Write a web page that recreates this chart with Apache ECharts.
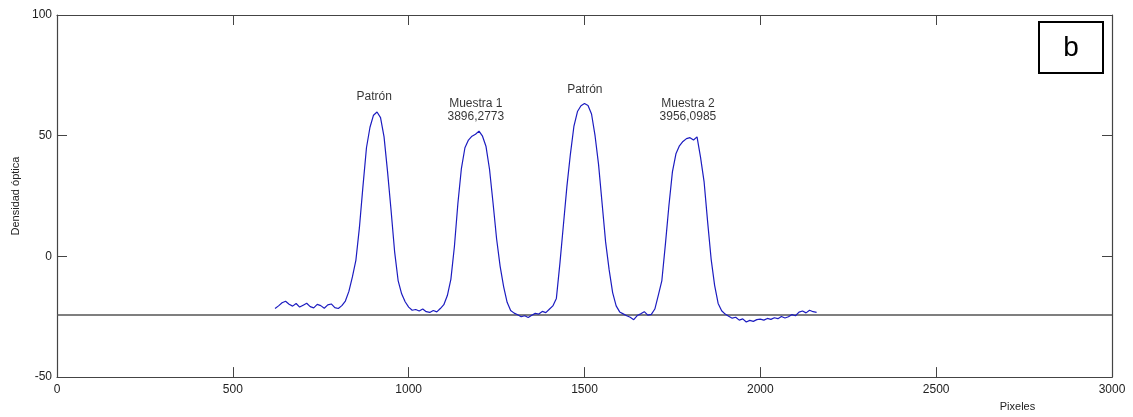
<!DOCTYPE html>
<html>
<head>
<meta charset="utf-8">
<script src="https://cdn.jsdelivr.net/npm/echarts@6/dist/echarts.min.js"></script>
<style>
  html, body { margin: 0; padding: 0; background: #fff; }
  #main { width: 1133px; height: 417px; }
</style>
</head>
<body>
<div id="main"></div>
<script>
// densitometry profile, x in pixels (step 10 from 620)
const xStart = 620;
const xStep = 10;
const density = [
  -21.6, -20.5, -19.2, -18.6, -19.8, -20.6, -19.5, -21.0, -20.2, -19.4,
  -20.8, -21.3, -19.9, -20.4, -21.5, -20.1, -19.7, -21.2, -21.6, -20.4,
  -18.5, -14.5, -8.5, -1.5, 12, 29, 45, 53.5, 58.5, 59.8,
  57.5, 49.5, 35, 19, 2, -10, -15.5, -18.8, -21, -22.3,
  -22.0, -22.6, -21.8, -22.9, -23.2, -22.4, -23.0, -21.6, -20.0, -16.2,
  -9.5, 4, 22, 36.5, 45, 48.2, 49.8, 50.6, 51.9, 49.8,
  45.5, 36, 22, 7.3, -4, -12.5, -19, -22.4, -23.5, -24.2,
  -25.0, -24.6, -25.3, -24.4, -23.6, -23.9, -22.8, -23.3, -21.9, -20.5,
  -17.4, -3, 13, 29, 42.5, 54, 60, 62.4, 63.3, 62.5,
  59, 50, 38, 22, 6, -5.5, -15, -20.5, -23, -23.8,
  -24.6, -25.2, -26.2, -24.5, -23.8, -22.9, -24.3, -24.0, -21.8, -16,
  -10, 5, 21, 35, 42.5, 45.8, 47.6, 48.8, 49.2, 48.2,
  49.5, 41, 31, 14.5, -1, -12, -19.5, -22.5, -23.9, -24.8,
  -25.6, -25.2, -26.4, -25.9, -27.2, -26.5, -26.9, -26.2, -26.0, -26.4,
  -25.7, -26.1, -25.4, -25.8, -24.9, -25.5, -25.0, -24.1, -24.6, -23.1,
  -22.6, -23.4, -22.3, -22.9, -23.2
];
const baselineY = -24.3;
const xTicks = [0, 3000, 500];
const yTicks = [-50, 100, 50];

const peakNames = ['Patrón', 'Muestra 1\n3896,2773', 'Patrón', 'Muestra 2\n3956,0985'];
const peakX = [902, 1191, 1501, 1794];
const peakY = [66.2, 60.6, 69.2, 60.6];

const profile = density.map((v, i) => [xStart + i * xStep, v]);
const peakPoints = peakNames.map((n, i) => ({ value: [peakX[i], peakY[i]], name: n }));

const chart = echarts.init(document.getElementById('main'));

const axisColor = '#444';
const font = 'Liberation Sans, Arial, sans-serif';
const txt = { color: '#222', fontFamily: font, fontSize: 12 };

function tickAxis(extra) {
  return Object.assign({
    type: 'value',
    axisLine: { show: true, onZero: false, lineStyle: { color: axisColor, width: 1.2 } },
    axisTick: { show: true, inside: true, length: 10, lineStyle: { color: axisColor } },
    splitLine: { show: false }
  }, extra);
}

chart.setOption({
  animation: false,
  backgroundColor: '#fff',
  grid: { left: 57, top: 15, right: 21, bottom: 38 },
  xAxis: [
    tickAxis({
      min: xTicks[0], max: xTicks[1], interval: xTicks[2],
      name: 'Pixeles', nameLocation: 'middle', nameGap: 22,
      nameTextStyle: Object.assign({}, txt, { fontSize: 11, padding: [0, 0, 0, 866] }),
      axisLabel: Object.assign({}, txt, { margin: 7, formatter: v => String(v) })
    }),
    tickAxis({
      position: 'top', min: xTicks[0], max: xTicks[1], interval: xTicks[2],
      axisLabel: { show: false }
    })
  ],
  yAxis: [
    tickAxis({
      min: yTicks[0], max: yTicks[1], interval: yTicks[2],
      name: 'Densidad óptica', nameLocation: 'middle', nameGap: 33,
      nameTextStyle: Object.assign({}, txt, { fontSize: 11 }),
      axisLabel: Object.assign({}, txt, { margin: 5, formatter: v => String(v) })
    }),
    tickAxis({
      position: 'right', min: yTicks[0], max: yTicks[1], interval: yTicks[2],
      axisLabel: { show: false }
    })
  ],
  series: [
    {
      type: 'line',
      data: [[xTicks[0], baselineY], [xTicks[1], baselineY]],
      symbol: 'none',
      lineStyle: { color: '#555', width: 1.5 },
      silent: true
    },
    {
      type: 'line',
      data: profile,
      symbol: 'none',
      lineStyle: { color: '#1c1cc0', width: 1.2 }
    },
    {
      type: 'scatter',
      data: peakPoints,
      symbolSize: 0,
      label: {
        show: true,
        position: 'inside',
        formatter: p => p.name,
        color: '#000',
        fontFamily: font,
        fontSize: 12,
        lineHeight: 13,
        align: 'center'
      }
    }
  ],
  graphic: [
    {
      type: 'group',
      right: 29, top: 21,
      children: [
        { type: 'rect', shape: { x: 0, y: 0, width: 64, height: 51 },
          style: { fill: '#fff', stroke: '#000', lineWidth: 2 } },
        { type: 'text', x: 32, y: 26,
          style: { text: 'b', fill: '#000', fontSize: 28, fontFamily: font,
                   textAlign: 'center', textVerticalAlign: 'middle' } }
      ]
    }
  ]
});
</script>
</body>
</html>
